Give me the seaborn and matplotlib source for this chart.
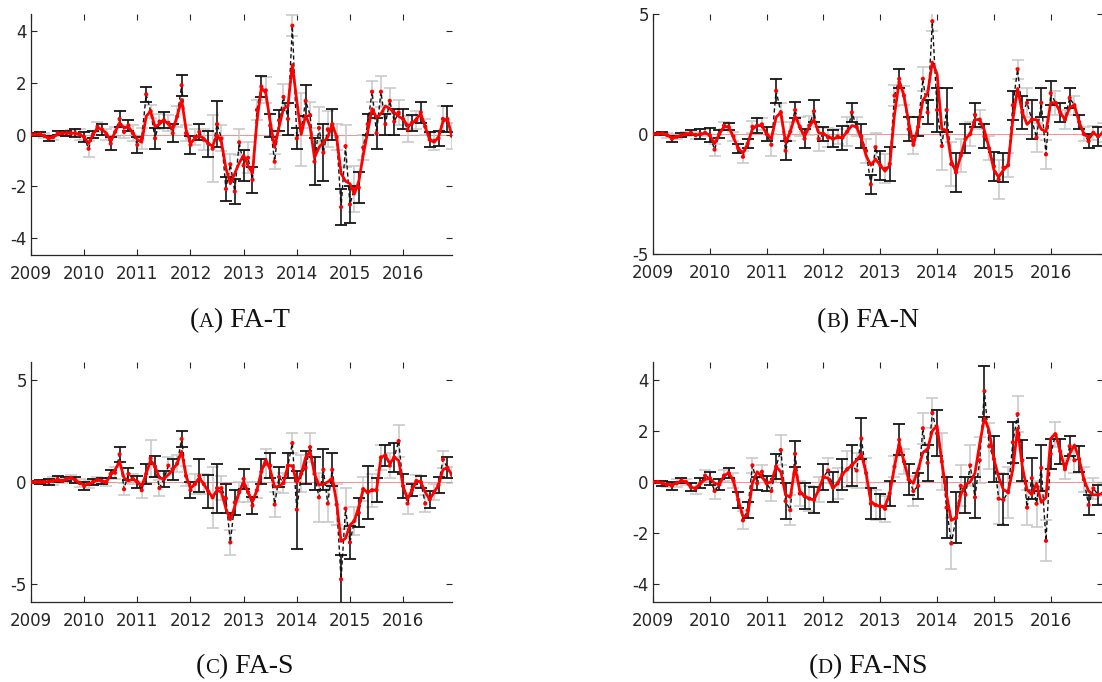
import numpy as np
import pandas as pd
import matplotlib.pyplot as plt
import seaborn as sns

# monthly series, Jan 2009 .. Dec 2016
months = 2009 + np.arange(96) / 12

# (A) FA-T
fit_t = [0, 0, 0, -0.05, -0.15, -0.1, 0, 0.05, 0.05, 0.05, 0.05, 0.0,
         -0.1, -0.35, 0.0, 0.25, 0.2, 0.05, -0.25, 0.1, 0.45, 0.25, 0.3, 0.05,
         -0.2, -0.3, 0.7, 0.9, 0.3, 0.4, 0.55, 0.4, 0.2, 0.7, 1.35, 0.2,
         -0.35, -0.15, -0.05, -0.15, -0.35, -0.45, 0.0, -0.3, -1.3, -1.9, -1.5, -1.1,
         -0.8, -1.2, -1.5, 0.5, 1.8, 1.6, 0.5, -0.5, 0.3, 1.0, 1.1, 2.7,
         1.3, 0.0, 0.75, 0.3, -0.9, -0.5, -0.3, -0.1, 0.4, -0.1, -1.5, -1.8,
         -1.9, -2.3, -1.8, -0.8, 0.1, 1.0, 0.65, 0.8, 1.1, 1.0, 0.85, 0.7,
         0.6, 0.35, 0.4, 0.6, 0.8, 0.3, -0.2, -0.3, -0.1, 0.5, 0.6, -0.05]
obs_t = [0, 0, 0.02, -0.05, -0.15, -0.1, 0.05, 0.05, 0.05, 0.05, 0.05, 0.0,
         -0.1, -0.55, 0.0, 0.3, 0.2, 0.0, -0.35, 0.1, 0.6, 0.1, 0.35, 0.05,
         -0.4, -0.15, 1.55, 0.9, -0.15, 0.5, 0.55, 0.45, 0.05, 0.7, 1.9, 0.05,
         -0.4, -0.1, 0.1, -0.2, -0.35, -0.55, 0.4, -0.15, -2.1, -1.15, -2.2, -0.3,
         -1.2, -0.9, -1.75, 0.95, 1.85, 1.7, 0.35, -1.05, 0.55, 1.45, 0.6, 4.2,
         -0.15, 0.2, 1.3, 0.75, -1.05, 0.25, -0.7, 0.2, 0.4, -0.1, -2.8, -0.45,
         -2.7, -2.1, -2.05, -0.5, 0.4, 1.65, 0.05, 1.65, 0.4, 1.3, 0.5, 0.85,
         0.6, 0.2, 0.45, 0.55, 0.85, 0.3, -0.2, -0.25, -0.15, 0.6, 0.6, -0.05]
err_t = [0.05, 0.05, 0.08, 0.1, 0.1, 0.1, 0.08, 0.1, 0.1, 0.12, 0.15, 0.2,
         0.2, 0.3, 0.15, 0.2, 0.2, 0.2, 0.25, 0.2, 0.3, 0.25, 0.2, 0.3,
         0.3, 0.4, 0.3, 0.25, 0.4, 0.3, 0.3, 0.3, 0.35, 0.4, 0.4, 0.3,
         0.35, 0.3, 0.3, 0.4, 0.5, 1.3, 0.9, 0.5, 0.45, 0.4, 0.5, 0.5,
         0.6, 0.6, 0.5, 0.4, 0.4, 0.5, 0.45, 0.3, 0.4, 0.5, 0.6, 0.4,
         0.4, 1.4, 0.6, 0.5, 0.9, 0.8, 1.1, 0.7, 0.6, 0.5, 0.7, 0.8,
         0.7, 0.9, 0.6, 0.5, 0.4, 0.4, 0.6, 0.6, 0.4, 0.5, 0.5, 0.5,
         0.4, 0.5, 0.3, 0.35, 0.4, 0.3, 0.3, 0.35, 0.3, 0.5, 0.5, 0.5]

# (B) FA-N
fit_n = [0, 0, 0.02, -0.05, -0.15, -0.12, -0.05, 0, 0, -0.03, -0.03, 0.05,
         -0.05, -0.4, 0.0, 0.3, 0.3, -0.15, -0.6, -0.8, -0.4, 0.2, 0.35, 0.35,
         0.0, -0.2, 0.7, 0.9, -0.35, 0.1, 0.75, 0.3, -0.1, 0.3, 0.6, 0.05,
         0.0, -0.1, -0.2, -0.15, -0.15, 0.1, 0.35, 0.3, -0.2, -0.9, -1.3, -1.05,
         -1.3, -1.55, -1.3, 0.8, 2.2, 1.6, 0.5, -0.45, 0.3, 1.4, 1.7, 3.0,
         2.5, 0.2, 0.15, -1.1, -1.6, -0.9, -0.2, 0.0, 0.6, 0.6, 0.15, -0.6,
         -1.5, -1.8, -1.5, -1.3, 0.6, 1.9, 0.9, 0.4, 0.6, 0.6, 0.2, 0.1,
         1.3, 1.3, 0.9, 0.6, 1.1, 1.2, 0.5, 0.0, -0.15, 0.05, -0.1, 0.05]
obs_n = [0, 0, 0.02, -0.05, -0.2, -0.12, -0.05, 0, 0.05, -0.05, 0.0, 0.05,
         -0.05, -0.65, 0.0, 0.35, 0.3, -0.1, -0.6, -0.95, -0.4, 0.3, 0.35, 0.4,
         0.0, -0.45, 1.8, 0.9, -0.7, 0.1, 1.0, 0.3, -0.2, 0.35, 0.95, -0.2,
         0.0, -0.15, -0.2, -0.1, -0.15, 0.1, 0.9, 0.3, -0.1, -0.7, -2.1, -0.55,
         -1.3, -1.45, -1.25, 1.6, 2.3, 1.6, 0.2, -0.45, 0.3, 2.3, 0.9, 4.7,
         1.0, -0.5, 1.0, -1.25, -1.6, -0.9, -0.2, 0.0, 0.8, 0.6, -0.1, -0.6,
         -1.35, -1.9, -1.4, -1.3, 1.2, 2.7, 0.9, 1.3, 0.6, -0.15, 1.3, -0.85,
         1.7, 1.3, 0.9, 0.6, 1.5, 1.2, 0.5, 0.0, -0.3, 0.05, -0.1, 0.05]
err_n = [0.05, 0.05, 0.08, 0.1, 0.12, 0.1, 0.08, 0.08, 0.1, 0.15, 0.2, 0.15,
         0.3, 0.25, 0.15, 0.15, 0.15, 0.2, 0.2, 0.25, 0.2, 0.25, 0.3, 0.25,
         0.3, 0.45, 0.5, 0.4, 0.4, 0.4, 0.35, 0.4, 0.4, 0.4, 0.45, 0.5,
         0.3, 0.4, 0.35, 0.3, 0.5, 0.6, 0.4, 0.4, 0.5, 0.5, 0.4, 0.6,
         0.6, 0.6, 0.7, 0.45, 0.4, 0.4, 0.5, 0.4, 0.4, 0.5, 0.5, 0.4,
         0.9, 1.0, 0.9, 0.9, 0.8, 0.7, 0.6, 0.5, 0.5, 0.4, 0.5, 0.5,
         0.6, 0.8, 0.6, 0.5, 0.6, 0.4, 0.7, 0.6, 0.8, 0.6, 0.6, 0.6,
         0.5, 0.5, 0.4, 0.4, 0.4, 0.4, 0.3, 0.3, 0.3, 0.3, 0.4, 0.4]

# (C) FA-S
fit_s = [0, 0, 0, 0, 0.02, 0.05, 0.08, 0.05, 0.15, 0.2, 0.1, -0.05,
         -0.15, -0.1, 0.0, 0.1, 0.05, 0.0, 0.35, 0.6, 1.0, 0.2, 0.05, 0.15,
         0.0, -0.2, 0.4, 1.05, 0.75, 0.2, 0.15, 0.35, 0.6, 0.9, 1.5, 0.3,
         -0.3, -0.1, 0.2, -0.1, -0.45, -0.75, -0.4, -0.5, -1.3, -1.85, -1.2, -0.5,
         0.0, -0.5, -0.95, -0.4, 0.5, 1.1, 0.6, -0.25, -0.2, -0.05, 0.8, 0.8,
         -0.05, 0.4, 1.2, 1.5, 0.4, -0.15, -0.1, 0.0, 0.2, -1.0, -2.9, -2.75,
         -2.1, -1.9, -1.2, -0.35, -0.5, -0.4, -0.4, 1.2, 1.3, 0.9, 1.2, 1.05,
         -0.2, -0.85, -0.4, 0.05, 0.0, -0.5, -0.85, -0.5, -0.15, 0.6, 0.7, 0.35]
obs_s = [0, 0, 0, 0, 0.02, 0.05, 0.15, 0.05, 0.15, 0.2, 0.1, -0.05,
         -0.2, -0.1, 0.0, 0.1, 0.05, 0.0, 0.4, 0.45, 1.35, -0.35, 0.4, 0.15,
         0.0, -0.4, 0.4, 1.15, 0.75, -0.3, 0.15, 0.8, 0.6, 0.9, 2.1, 0.3,
         -0.4, -0.1, 0.3, -0.1, -0.45, -0.75, -0.3, -0.3, -0.8, -2.95, -1.0, -0.5,
         0.15, -0.5, -1.15, -0.4, 0.5, 0.9, 0.8, -1.1, 0.25, -0.05, 0.8, 1.9,
         -1.35, 0.4, 0.7, 1.7, 0.4, -0.75, 0.6, -1.05, 0.6, -1.1, -4.75, -1.3,
         -2.95, -1.9, -1.5, -0.35, -0.5, -0.4, -0.4, 1.2, 1.3, 0.8, 1.2, 2.0,
         -0.2, -1.05, -0.4, 0.05, 0.0, -1.05, -0.85, -0.5, -0.15, 1.1, 0.7, 0.35]
err_s = [0.05, 0.05, 0.1, 0.1, 0.15, 0.2, 0.15, 0.1, 0.1, 0.15, 0.15, 0.2,
         0.2, 0.2, 0.15, 0.15, 0.15, 0.2, 0.2, 0.3, 0.35, 0.3, 0.3, 0.25,
         0.3, 0.4, 0.5, 0.9, 0.5, 0.4, 0.4, 0.4, 0.5, 0.4, 0.4, 0.5,
         0.4, 0.5, 0.8, 0.5, 0.8, 1.5, 1.2, 0.6, 0.7, 0.6, 0.6, 0.5,
         0.5, 0.5, 0.4, 0.4, 0.6, 0.7, 0.6, 0.6, 0.5, 0.5, 0.6, 0.5,
         1.9, 0.9, 0.8, 0.7, 0.8, 1.2, 1.0, 0.9, 0.8, 1.0, 1.2, 1.0,
         0.8, 0.7, 0.7, 0.6, 1.3, 0.8, 0.6, 0.6, 0.5, 0.6, 0.7, 0.8,
         0.6, 0.5, 0.3, 0.3, 0.3, 0.4, 0.4, 0.4, 0.4, 0.4, 0.5, 0.4]

# (D) FA-NS
fit_ns = [0, 0, -0.05, -0.1, -0.1, -0.05, 0.05, 0.0, -0.2, -0.25, -0.05, 0.1,
          0.15, -0.05, -0.1, 0.25, 0.35, 0.05, -0.7, -1.35, -1.3, -0.05, 0.4, 0.2,
          -0.05, 0.0, 0.6, 0.4, -0.5, -0.6, 0.6, -0.35, -0.55, -0.65, -0.7, -0.3,
          0.2, 0.15, -0.25, -0.05, 0.3, 0.5, 0.65, 0.85, 1.1, 0.35, -0.75, -0.9,
          -0.95, -0.95, -0.45, 0.6, 1.5, 0.8, 0.1, -0.05, 0.5, 1.15, 1.3, 2.0,
          2.2, 0.8, -0.5, -1.5, -1.4, -0.5, -0.1, 0.0, 0.35, 1.5, 2.5, 2.0,
          0.9, 0.2, -0.3, -0.4, 0.5, 2.1, 0.6, -0.3, -0.5, -0.05, -0.8, -0.6,
          1.7, 1.9, 1.2, 0.5, 1.1, 1.45, 0.9, 0.1, -0.35, -0.5, -0.5, -0.45]
obs_ns = [0, 0, -0.05, -0.1, -0.15, -0.05, 0.05, 0.0, -0.2, -0.25, -0.05, 0.25,
          0.15, -0.35, -0.1, 0.25, 0.35, 0.05, -0.7, -1.5, -1.1, 0.65, -0.05, 0.4,
          -0.05, -0.35, 0.6, 1.25, -0.75, -1.1, 1.1, -0.45, -0.55, -0.65, -0.7, -0.3,
          0.2, 0.45, -0.2, -0.05, 0.3, 0.5, 0.65, 0.45, 1.7, 0.35, -0.85, -0.9,
          -0.95, -1.05, -0.45, 0.6, 1.65, 0.8, 0.1, -0.35, -0.15, 2.1, 0.75, 2.7,
          1.9, 0.8, -1.0, -2.4, -1.4, -0.15, -0.5, 0.65, -0.6, 0.85, 3.55, 1.4,
          0.9, -0.65, -0.7, -0.4, 1.55, 2.65, 0.85, -1.0, 0.15, -0.85, 0.55, -2.3,
          1.1, 1.85, 1.2, 0.5, 1.4, 0.85, 0.9, 0.1, -0.9, -0.25, -0.5, -0.45]
err_ns = [0.05, 0.05, 0.1, 0.1, 0.15, 0.15, 0.1, 0.1, 0.15, 0.2, 0.2, 0.2,
          0.25, 0.3, 0.2, 0.2, 0.2, 0.3, 0.3, 0.35, 0.3, 0.3, 0.25, 0.25,
          0.3, 0.4, 0.5, 0.6, 0.7, 0.6, 0.5, 0.5, 0.5, 0.5, 0.5, 0.5,
          0.5, 0.5, 0.6, 0.6, 0.6, 0.7, 0.8, 0.7, 0.8, 0.6, 0.6, 0.6,
          0.5, 0.5, 0.5, 0.4, 0.6, 0.5, 0.6, 0.6, 0.5, 0.6, 0.7, 0.6,
          0.9, 1.1, 1.2, 1.0, 1.0, 0.8, 0.7, 0.8, 0.8, 0.9, 1.0, 0.9,
          0.9, 1.0, 1.0, 1.0, 0.8, 0.7, 0.8, 0.7, 0.8, 0.9, 0.9, 0.8,
          0.6, 0.5, 0.5, 0.4, 0.4, 0.5, 0.5, 0.5, 0.4, 0.4, 0.4, 0.4]

years = list(range(2009, 2017))

sns.set_style("ticks")
plt.rcParams["font.family"] = ["DejaVu Sans"]

W, H = 1102, 682
fig = plt.figure(figsize=(W / 100, H / 100), dpi=100)

# letter, name, fit, obs, err, ylim, yticks, axes box in pixels (left, top, right, bottom), caption x / baseline y
panels = [
    ("A", "FA-T", fit_t, obs_t, err_t, 4.65, [-4, -2, 0, 2, 4], (31, 14, 452, 255), 240, 327),
    ("B", "FA-N", fit_n, obs_n, err_n, 5.0, [-5, 0, 5], (653, 14, 1103, 254), 868, 327),
    ("C", "FA-S", fit_s, obs_s, err_s, 5.86, [-5, 0, 5], (31, 362, 452, 602), 245, 673),
    ("D", "FA-NS", fit_ns, obs_ns, err_ns, 4.69, [-4, -2, 0, 2, 4], (653, 362, 1103, 602), 868, 673),
]


def caption(cx, ybase, letter, name):
    # "(A) FA-T" with the letter in small caps
    kw = dict(family=["Liberation Serif", "DejaVu Serif"], va="baseline", color="#111111")
    parts = [fig.text(0, 0, "(", fontsize=20, **kw),
             fig.text(0, 0, letter, fontsize=15, **kw),
             fig.text(0, 0, ") " + name, fontsize=20, **kw)]
    r = fig.canvas.get_renderer()
    widths = [p.get_window_extent(r).width for p in parts]
    x = cx - sum(widths) / 2
    for p, w in zip(parts, widths):
        p.set_position((x / W, 1 - ybase / H))
        x += w


for letter, name, fit, obs, err, ylim, yt, box, cx, cy in panels:
    l, t, r, b = box
    ax = fig.add_axes([l / W, 1 - b / H, (r - l) / W, (b - t) / H])
    df = pd.DataFrame({"date": months, "fit": fit, "obs": obs, "err": err})
    odd = df.iloc[1::2]
    even = df.iloc[0::2]

    ax.axhline(0, color="red", lw=0.7, alpha=0.45, zorder=1)
    ax.errorbar(odd["date"], odd["obs"], yerr=odd["err"], fmt="none",
                ecolor="#c6c6c6", elinewidth=1.1, capsize=4.5, capthick=1.1, zorder=2)
    ax.errorbar(even["date"], even["obs"], yerr=even["err"], fmt="none",
                ecolor="#151515", elinewidth=1.2, capsize=4.5, capthick=1.3, zorder=3)
    sns.lineplot(data=df, x="date", y="obs", color="#111111", lw=1.0,
                 linestyle=(0, (3, 2)), ax=ax, zorder=3)
    sns.lineplot(data=df, x="date", y="fit", color="#ff0000", lw=2.0, ax=ax, zorder=4)
    sns.scatterplot(data=df, x="date", y="obs", color="#ff0000", s=9,
                    edgecolor="none", ax=ax, zorder=5)

    ax.set_xlim(2009, 2016.92)
    ax.set_ylim(-ylim, ylim)
    ax.set_xticks(years)
    ax.set_xticklabels([str(y) for y in years])
    ax.set_yticks(yt)
    ax.set_yticklabels([str(v) for v in yt])
    ax.set_xlabel("")
    ax.set_ylabel("")
    ax.tick_params(direction="in", top=True, right=True, length=4, width=0.8,
                   labelsize=12, labelcolor="#262626", color="#262626")
    ax.tick_params(axis="x", pad=7)
    ax.tick_params(axis="y", pad=3)
    for side in ["top", "right"]:
        ax.spines[side].set_visible(False)
    for side in ["left", "bottom"]:
        ax.spines[side].set_color("#262626")
        ax.spines[side].set_linewidth(0.9)

    caption(cx, cy, letter, name)

plt.savefig("out.png", dpi=100)
